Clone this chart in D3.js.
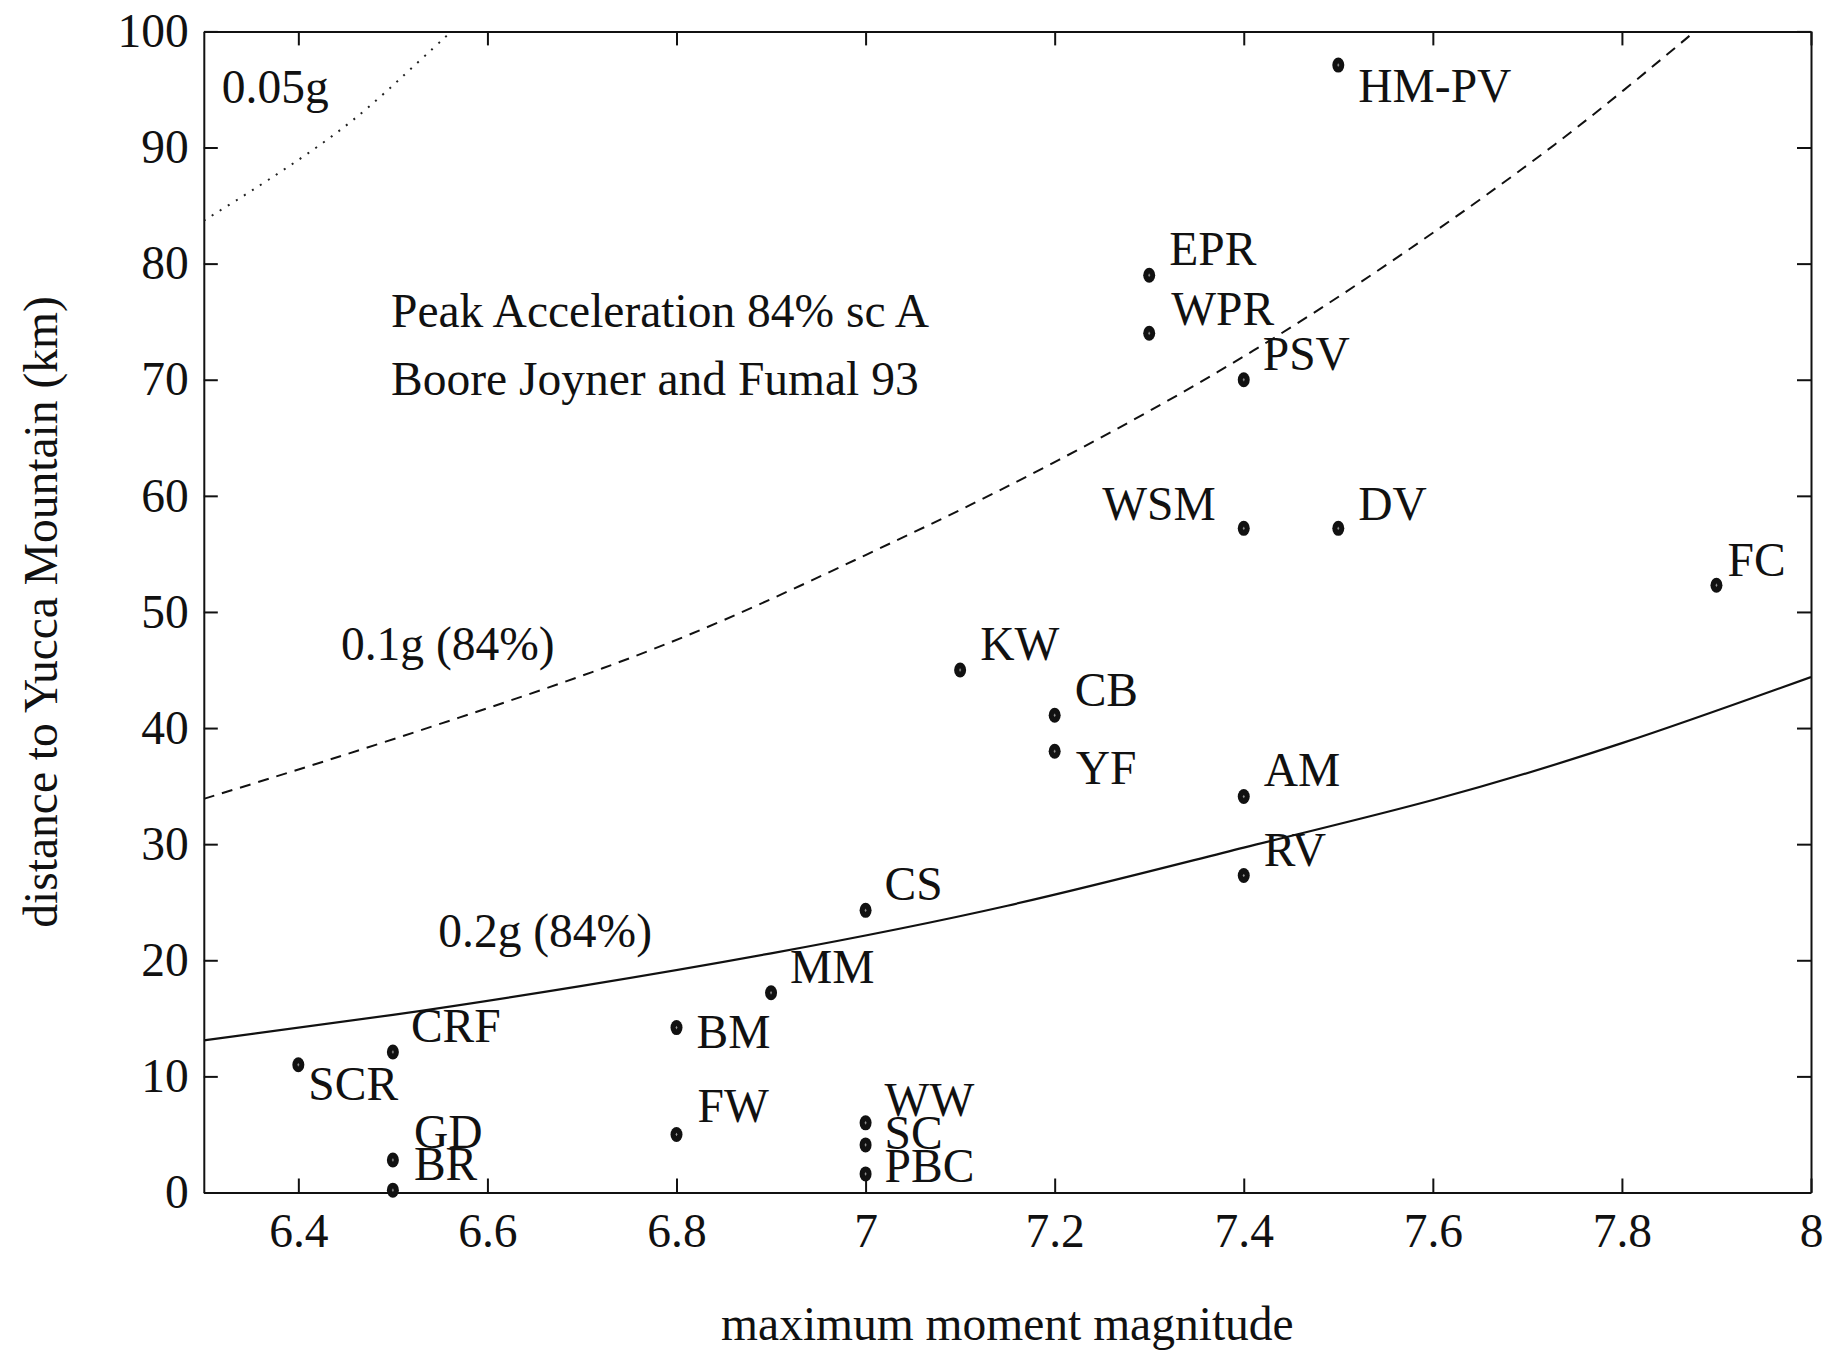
<!DOCTYPE html>
<html>
<head>
<meta charset="utf-8">
<script src="https://cdn.jsdelivr.net/npm/d3@7"></script>
<style>
  body { margin: 0; background: #fff; }
  text { font-family: "Liberation Serif", "Times New Roman", serif; fill: #111; }
</style>
</head>
<body>
<script>
// earthquake sources: name, maximum moment magnitude, distance (km)
var names     = ["HM-PV","EPR","WPR","PSV","WSM","DV","FC","KW","CB","YF","AM","RV","CS","MM","BM","CRF","SCR","GD","BR","FW","WW","SC","PBC"];
var magnitude = [7.5, 7.3, 7.3, 7.4, 7.4, 7.5, 7.9, 7.1, 7.2, 7.2, 7.4, 7.4, 7.0, 6.9, 6.8, 6.5, 6.4, 6.5, 6.5, 6.8, 7.0, 7.0, 7.0];
var distance  = [97.1, 79.0, 74.0, 70.0, 57.2, 57.2, 52.3, 45.0, 41.1, 38.0, 34.1, 27.3, 24.3, 17.2, 14.2, 12.1, 11.0, 2.8, 0.2, 5.0, 6.0, 4.1, 1.6];

// constant peak acceleration contours (magnitude, distance)
var curve005 = [[6.3,83.7],[6.368,87.2],[6.449,91.8],[6.514,96.4],[6.562,100],[6.57,100.6]];
var curve01  = [[6.3,33.9],[6.43,37.2],[6.57,40.9],[6.71,44.8],[6.85,49.3],[7.0,54.9],[7.14,60.4],[7.28,66.4],[7.41,72.5],[7.54,79.3],[7.67,86.7],[7.78,93.5],[7.88,100.2],[7.9,101.6]];
var curve02  = [[6.3,13.1],[6.5,15.3],[6.7,17.8],[6.9,20.6],[7.15,24.7],[7.4,29.7],[7.6,33.8],[7.8,38.7],[8.0,44.4]];

// tick labels
var xTicks = [6.4, 6.6, 6.8, 7, 7.2, 7.4, 7.6, 7.8, 8];
var xTickLabels = ["6.4","6.6","6.8","7","7.2","7.4","7.6","7.8","8"];
var yTicks = [0,10,20,30,40,50,60,70,80,90,100];

// label placement next to each marker (pixels)
var labelDx = [20, 20, 22, 19, -28, 20, 11, 20, 20, 21, 20, 20, 19, 19, 20, 18, 10, 21, 21, 21, 19, 19, 19];
var labelDy = [37, -10, -8, -10, -8, -8, -9, -10, -9, 33, -11, -10, -10, -10, 20, -10, 35, -12, -10, -12, -7, 4, 8];

var annotations = [
  {text: "0.05g", x: 6.319, y: 93.8},
  {text: "Peak Acceleration 84% sc A", x: 6.498, y: 74.5},
  {text: "Boore Joyner and Fumal 93", x: 6.498, y: 68.7},
  {text: "0.1g (84%)", x: 6.445, y: 45.9},
  {text: "0.2g (84%)", x: 6.548, y: 21.1}
];

// set the dimensions and margins of the graph
var margin = {top: 31.4, right: 15, bottom: 163.5, left: 203.8},
    width = 1826 - margin.left - margin.right,
    height = 1356 - margin.top - margin.bottom;

var fontSize = 47.5;

var svg = d3.select("body")
  .append("svg")
    .attr("width", 1826)
    .attr("height", 1356)
  .append("g")
    .attr("transform", "translate(" + margin.left + "," + margin.top + ")");

var x = d3.scaleLinear().domain([6.3, 8]).range([0, width]);
var y = d3.scaleLinear().domain([0, 100]).range([height, 0]);

svg.append("clipPath")
    .attr("id", "plotclip")
  .append("rect")
    .attr("width", width)
    .attr("height", height);

// curves
var line = d3.line()
  .x(function(d) { return x(d[0]); })
  .y(function(d) { return y(d[1]); })
  .curve(d3.curveNatural);

var curves = svg.append("g").attr("clip-path", "url(#plotclip)");
curves.append("path").datum(curve005)
  .attr("fill", "none").attr("stroke", "#222").attr("stroke-width", 2)
  .attr("stroke-dasharray", "2,7.5")
  .attr("d", line);
curves.append("path").datum(curve01)
  .attr("fill", "none").attr("stroke", "#111").attr("stroke-width", 2)
  .attr("stroke-dasharray", "11,8")
  .attr("d", line);
curves.append("path").datum(curve02)
  .attr("fill", "none").attr("stroke", "#111").attr("stroke-width", 2.2)
  .attr("d", line);

// Add X axis (bottom with labels, top with ticks only)
svg.append("g")
  .attr("transform", "translate(0," + height + ")")
  .call(d3.axisBottom(x)
    .tickValues(xTicks)
    .tickFormat(function(d, i) { return xTickLabels[i]; })
    .tickSizeInner(-14).tickSizeOuter(0).tickPadding(21));
svg.append("g")
  .call(d3.axisTop(x).tickValues(xTicks).tickFormat("")
    .tickSizeInner(-14).tickSizeOuter(0));

// Add Y axis (left with labels, right with ticks only)
svg.append("g")
  .call(d3.axisLeft(y)
    .tickValues(yTicks)
    .tickSizeInner(-14).tickSizeOuter(0).tickPadding(15));
svg.append("g")
  .attr("transform", "translate(" + width + ",0)")
  .call(d3.axisRight(y).tickValues(yTicks).tickFormat("")
    .tickSizeInner(-14).tickSizeOuter(0));

svg.selectAll(".domain").attr("stroke", "#111").attr("stroke-width", 2);
svg.selectAll(".tick line").attr("stroke", "#111").attr("stroke-width", 2);
svg.selectAll(".tick text")
  .attr("font-family", "Liberation Serif, serif")
  .attr("font-size", fontSize)
  .attr("fill", "#111");

// markers
var pts = names.map(function(n, i) { return {name: n, m: magnitude[i], r: distance[i], dx: labelDx[i], dy: labelDy[i]}; });

var marks = svg.append("g").selectAll("g")
  .data(pts)
  .enter().append("g")
    .attr("transform", function(d) { return "translate(" + x(d.m) + "," + y(d.r) + ")"; });
marks.append("ellipse")
  .attr("rx", 6).attr("ry", 7.5)
  .attr("fill", "#111");
marks.append("path")
  .attr("d", "M-1,0H1M0,-1.5V1.5")
  .attr("stroke", "#fff").attr("stroke-width", 0.8).attr("opacity", 0.6);

marks.append("text")
  .attr("x", function(d) { return d.dx; })
  .attr("y", function(d) { return d.dy; })
  .attr("text-anchor", function(d) { return d.dx < 0 ? "end" : "start"; })
  .attr("font-size", fontSize)
  .text(function(d) { return d.name; });

// text annotations
svg.append("g").selectAll("text")
  .data(annotations)
  .enter().append("text")
    .attr("x", function(d) { return x(d.x); })
    .attr("y", function(d) { return y(d.y); })
    .attr("font-size", fontSize)
    .text(function(d) { return d.text; });

// axis titles
svg.append("text")
  .attr("x", width / 2)
  .attr("y", 1340 - margin.top)
  .attr("text-anchor", "middle")
  .attr("font-size", fontSize)
  .text("maximum moment magnitude");

svg.append("text")
  .attr("transform", "translate(" + (57 - margin.left) + "," + (height / 2) + ") rotate(-90)")
  .attr("text-anchor", "middle")
  .attr("font-size", fontSize)
  .text("distance to Yucca Mountain (km)");
</script>
</body>
</html>
